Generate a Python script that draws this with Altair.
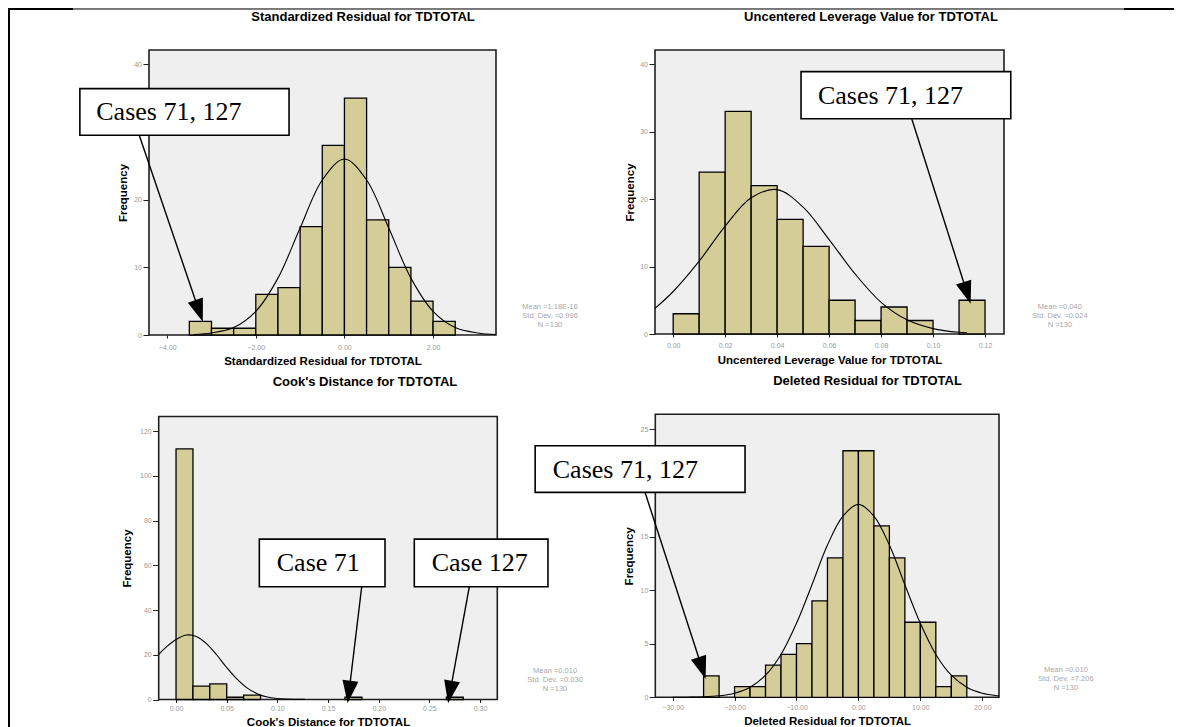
import altair as alt
import pandas as pd

FONT = "Liberation Sans"
SERIF = "Liberation Serif"
BAR_FILL = "#d4cd98"
PLOT_FILL = "#efefef"
FRAME = "#1e1e1e"
LABEL_GRAY = "#9a9a9a"
STAT_GRAY = "#a8a8a8"
W, H = 1166, 719

# ---------------- Panel 1: Standardized Residual ----------------
sr_title = "Standardized Residual for TDTOTAL"
sr_bin_start = [-3.5, -3.0, -2.5, -2.0, -1.5, -1.0, -0.5, 0.0, 0.5, 1.0, 1.5, 2.0]
sr_counts = [2, 1, 1, 6, 7, 16, 28, 35, 17, 10, 5, 2]
sr_bin_width = 0.5
sr_curve_x = [-3.4, -3.0, -2.5, -2.0, -1.5, -1.0, -0.5, 0.0, 0.5, 1.0, 1.5, 2.0, 2.5, 3.0, 3.42]
sr_curve_y = [0.08, 0.3, 1.1, 3.5, 8.4, 15.8, 22.9, 26.0, 22.9, 15.8, 8.4, 3.5, 1.1, 0.3, 0.07]
sr_xticks = [-4, -2, 0, 2]
sr_yticks = [0, 10, 20, 40]
sr_stats = ["Mean =1.18E-16", "Std. Dev. =0.996", "N =130"]

# ---------------- Panel 2: Uncentered Leverage Value ----------------
lv_title = "Uncentered Leverage Value for TDTOTAL"
lv_bin_start = [0.00, 0.01, 0.02, 0.03, 0.04, 0.05, 0.06, 0.07, 0.08, 0.09, 0.10, 0.11]
lv_counts = [3, 24, 33, 22, 17, 13, 5, 2, 4, 2, 0, 5]
lv_bin_width = 0.01
lv_curve_x = [-0.007, 0.0, 0.01, 0.02, 0.03, 0.04, 0.05, 0.06, 0.07, 0.08, 0.09, 0.10, 0.11, 0.113]
lv_curve_y = [3.8, 6.3, 10.8, 16.0, 20.2, 21.4, 18.8, 14.0, 8.9, 4.7, 2.1, 0.8, 0.25, 0.2]
lv_xticks = [0.0, 0.02, 0.04, 0.06, 0.08, 0.10, 0.12]
lv_yticks = [0, 10, 20, 30, 40]
lv_stats = ["Mean =0.040", "Std. Dev. =0.024", "N =130"]

# ---------------- Panel 3: Cook's Distance ----------------
cd_title = "Cook's Distance for TDTOTAL"
cd_bin_start = [0.0, 0.0167, 0.0333, 0.05, 0.0667, 0.1667, 0.2667]
cd_counts = [112, 6, 7, 1, 2, 1, 1]
cd_bin_width = 0.0167
cd_curve_x = [-0.0171, -0.01, 0.0, 0.01, 0.02, 0.03, 0.04, 0.05, 0.06, 0.07, 0.08, 0.09, 0.10, 0.11, 0.127]
cd_curve_y = [20.2, 23.3, 26.8, 28.8, 28.2, 25.0, 20.0, 14.3, 9.2, 5.2, 2.6, 1.1, 0.45, 0.2, 0.05]
cd_xticks = [0.0, 0.05, 0.10, 0.15, 0.20, 0.25, 0.30]
cd_yticks = [0, 20, 40, 60, 80, 100, 120]
cd_stats = ["Mean =0.010", "Std. Dev. =0.030", "N =130"]

# ---------------- Panel 4: Deleted Residual ----------------
dr_title = "Deleted Residual for TDTOTAL"
dr_bin_start = [-25.0, -20.0, -17.5, -15.0, -12.5, -10.0, -7.5, -5.0, -2.5, 0.0, 2.5, 5.0, 7.5, 10.0, 12.5, 15.0]
dr_counts = [2, 1, 1, 3, 4, 5, 9, 13, 23, 23, 16, 13, 7, 7, 1, 2]
dr_bin_width = 2.5
dr_curve_x = [-30.0, -27.5, -25.0, -22.5, -20.0, -17.5, -15.0, -12.5, -10.0, -7.5, -5.0, -2.5, 0.0,
              2.5, 5.0, 7.5, 10.0, 12.5, 15.0, 17.5, 20.0, 22.5, 22.7]
dr_curve_y = [0.0, 0.01, 0.04, 0.14, 0.38, 0.94, 2.06, 4.0, 6.9, 10.5, 14.2, 16.9, 18.0,
              16.9, 14.2, 10.5, 6.9, 4.0, 2.06, 0.94, 0.38, 0.14, 0.13]
dr_xticks = [-30, -20, -10, 0, 10, 20]
dr_yticks = [0, 5, 10, 15, 25]
dr_stats = ["Mean =0.010", "Std. Dev. =7.206", "N =130"]

# ---------------- Annotations (data units of each panel) ----------------
sr_boxes = [dict(x=-5.97, x2=-1.25, y=36.4, y2=29.5, tx=-5.60, ty=32.9, t="Cases 71, 127")]
sr_arrows = [dict(x=-4.63, y=29.5, x2=-3.28, y2=3.55, ang=341)]
sr_stat_pos = (4.64, [4.14, 2.81, 1.48])

lv_boxes = [dict(x=0.0492, x2=0.1299, y=38.9, y2=31.9, tx=0.0557, ty=35.3, t="Cases 71, 127")]
lv_arrows = [dict(x=0.0918, y=31.9, x2=0.1131, y2=6.08, ang=342)]
lv_stat_pos = (0.1488, [4.0, 2.67, 1.33])

cd_boxes = [dict(x=0.0822, x2=0.2062, y=71.7, y2=50.4, tx=0.0994, ty=61.2, t="Case 71"),
            dict(x=0.2351, x2=0.367, y=71.7, y2=50.4, tx=0.2523, ty=61.2, t="Case 127")]
cd_arrows = [dict(x=0.1832, y=50.4, x2=0.1707, y2=3.35, ang=7),
             dict(x=0.2894, y=50.4, x2=0.2704, y2=3.35, ang=10)]
cd_stat_pos = (0.374, [12.7, 8.7, 4.7])

dr_boxes = [dict(x=-52.2, x2=-18.31, y=23.47, y2=19.12, tx=-49.36, ty=21.2, t="Cases 71, 127")]
dr_arrows = [dict(x=-34.46, y=19.12, x2=-25.25, y2=2.73, ang=342)]
dr_stat_pos = (33.5, [2.55, 1.71, 0.87])

ARROW_SHAPE = "M-0.7,-1L0.7,-1L0,1Z"


def make_panel(bin_start, counts, bw, cx, cy, xdom, ydom, xrange_px, yrange_px,
               xticks, yticks, xtitle, boxes, arrows, stats, stat_pos,
               xlabpad, xtitlepad, ytitlepad):
    xs = alt.Scale(domain=xdom, range=xrange_px, nice=False, zero=False)
    ys = alt.Scale(domain=ydom, range=yrange_px, nice=False, zero=False)
    xax = alt.Axis(orient="bottom", offset=yrange_px[0] - H, values=xticks, format=".2f",
                   title=xtitle, grid=False, domain=False, tickSize=3, tickColor="#222",
                   labelFont=FONT, labelFontSize=7, labelColor=LABEL_GRAY, labelPadding=xlabpad,
                   labelFlush=False, labelOverlap=False, titleFont=FONT, titleFontSize=11.5,
                   titleFontWeight="bold", titleColor="black", titlePadding=xtitlepad)
    yax = alt.Axis(orient="left", offset=-xrange_px[0], values=yticks, format="d",
                   title="Frequency", grid=False, domain=False, tickSize=6, tickColor="#222",
                   labelFont=FONT, labelFontSize=7, labelColor=LABEL_GRAY, labelPadding=1.5,
                   labelOverlap=False, titleFont=FONT, titleFontSize=11.5,
                   titleFontWeight="bold", titleColor="black", titlePadding=ytitlepad)

    one = pd.DataFrame({"k": [0]})
    bg = alt.Chart(one).mark_rect(fill=PLOT_FILL, stroke=FRAME, strokeWidth=1.6).encode(
        x=alt.datum(xdom[0]), x2=alt.datum(xdom[1]),
        y=alt.datum(ydom[0]), y2=alt.datum(ydom[1]))

    bdf = pd.DataFrame({"x": bin_start, "x2": [b + bw for b in bin_start], "y": counts})
    bdf = bdf[bdf["y"] > 0]
    bars = alt.Chart(bdf).mark_rect(fill=BAR_FILL, stroke="black", strokeWidth=1.3).encode(
        x=alt.X("x:Q", scale=xs, axis=xax), x2="x2:Q",
        y=alt.Y("y:Q", scale=ys, axis=yax), y2=alt.datum(0))

    cdf = pd.DataFrame({"x": cx, "y": cy})
    curve = alt.Chart(cdf).mark_line(color="black", strokeWidth=1.1,
                                     interpolate="catmull-rom").encode(x="x:Q", y="y:Q")

    adf = pd.DataFrame(arrows)
    arules = alt.Chart(adf).mark_rule(color="black", strokeWidth=1.4).encode(
        x="x:Q", y="y:Q", x2="x2:Q", y2="y2:Q")
    heads = alt.Chart(adf).mark_point(shape=ARROW_SHAPE, filled=True, size=520, color="black",
                                      opacity=1).encode(
        x="x2:Q", y="y2:Q", angle=alt.Angle("ang:Q", scale=None))

    boxdf = pd.DataFrame(boxes)
    brect = alt.Chart(boxdf).mark_rect(fill="white", stroke="black", strokeWidth=1.6).encode(
        x="x:Q", x2="x2:Q", y="y:Q", y2="y2:Q")
    btext = alt.Chart(boxdf).mark_text(font=SERIF, fontSize=26, align="left", baseline="middle",
                                       color="black").encode(x="tx:Q", y="ty:Q", text="t:N")

    sdf = pd.DataFrame({"x": [stat_pos[0]] * len(stats), "y": stat_pos[1], "t": stats})
    stext = alt.Chart(sdf).mark_text(font=FONT, fontSize=7.5, align="center", baseline="middle",
                                     color=STAT_GRAY).encode(x="x:Q", y="y:Q", text="t:N")

    return alt.layer(bg, bars, curve, arules, heads, brect, btext, stext)


p1 = make_panel(sr_bin_start, sr_counts, sr_bin_width, sr_curve_x, sr_curve_y,
                [-4.41, 3.42], [0, 42.1], [141, 488], [327, 42], sr_xticks, sr_yticks,
                "Standardized Residual for TDTOTAL", sr_boxes, sr_arrows, sr_stats, sr_stat_pos,
                5, 5, 5.2)
p2 = make_panel(lv_bin_start, lv_counts, lv_bin_width, lv_curve_x, lv_curve_y,
                [-0.0070, 0.1273], [0, 42.1], [647, 996], [326, 42], lv_xticks, lv_yticks,
                "Uncentered Leverage Value for TDTOTAL", lv_boxes, lv_arrows, lv_stats, lv_stat_pos,
                4.5, 5.5, 4.7)
p3 = make_panel(cd_bin_start, cd_counts, cd_bin_width, cd_curve_x, cd_curve_y,
                [-0.0171, 0.317], [0, 126.5], [150.7, 489.3], [691.5, 408.5], cd_xticks, cd_yticks,
                "Cook's Distance for TDTOTAL", cd_boxes, cd_arrows, cd_stats, cd_stat_pos,
                2.3, 5, 7)
p4 = make_panel(dr_bin_start, dr_counts, dr_bin_width, dr_curve_x, dr_curve_y,
                [-32.8, 22.7], [0, 26.4], [647.3, 991], [689.3, 406.3], dr_xticks, dr_yticks,
                "Deleted Residual for TDTOTAL", dr_boxes, dr_arrows, dr_stats, dr_stat_pos,
                3, 5.4, 6)

# ---------------- Decorations: page frame and panel titles ----------------
one = pd.DataFrame({"k": [0]})
frame_left = alt.Chart(one).mark_rule(color="black", strokeWidth=2).encode(
    x=alt.value(1), y=alt.value(0), y2=alt.value(H))
frame_top_a = alt.Chart(one).mark_rule(color="black", strokeWidth=2).encode(
    x=alt.value(0), x2=alt.value(65), y=alt.value(1))
frame_top_b = alt.Chart(one).mark_rule(color="#555555", strokeWidth=1.5).encode(
    x=alt.value(65), x2=alt.value(1116), y=alt.value(1))
frame_top_c = alt.Chart(one).mark_rule(color="black", strokeWidth=2).encode(
    x=alt.value(1116), x2=alt.value(W), y=alt.value(1))


def title_text(txt, x, y):
    return alt.Chart(one).mark_text(text=txt, font=FONT, fontSize=13, fontWeight="bold",
                                    color="black", align="center", baseline="middle").encode(
        x=alt.value(x), y=alt.value(y))


titles = [title_text(sr_title, 355, 9), title_text(lv_title, 863, 9),
          title_text(cd_title, 357, 374), title_text(dr_title, 859.5, 372.7)]

chart = alt.layer(
    p1, p2, p3, p4, frame_left, frame_top_a, frame_top_b, frame_top_c, *titles
).resolve_scale(
    x="independent", y="independent"
).resolve_axis(
    x="independent", y="independent"
).properties(
    width=W, height=H, padding=0, background="white",
    autosize=alt.AutoSizeParams(type="none")
).configure_view(strokeWidth=0).configure(font=FONT)

chart.save("out.html", embed_options={"renderer": "svg", "actions": False})
